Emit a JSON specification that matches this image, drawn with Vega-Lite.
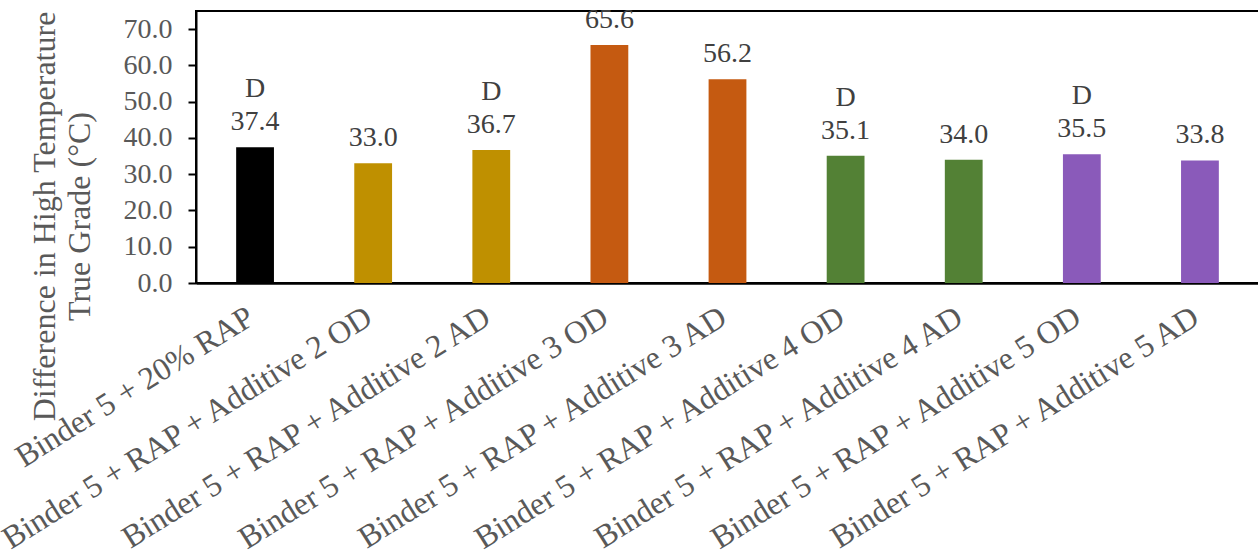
{
  "$schema": "https://vega.github.io/schema/vega-lite/v6.json",
  "autosize": "none",
  "width": 1063,
  "height": 272,
  "padding": {"left": 196, "top": 11, "right": 0, "bottom": 267},
  "background": "white",
  "config": {
    "font": "Liberation Serif",
    "view": {"stroke": "black", "strokeWidth": 2}
  },
  "data": {
    "values": [
      {"sample": "Binder 5 + 20% RAP", "value": 37.4, "group": "Control", "letter": "D"},
      {"sample": "Binder 5 + RAP + Additive 2 OD", "value": 33.0, "group": "Additive 2", "letter": ""},
      {"sample": "Binder 5 + RAP + Additive 2 AD", "value": 36.7, "group": "Additive 2", "letter": "D"},
      {"sample": "Binder 5 + RAP + Additive 3 OD", "value": 65.6, "group": "Additive 3", "letter": ""},
      {"sample": "Binder 5 + RAP + Additive 3 AD", "value": 56.2, "group": "Additive 3", "letter": ""},
      {"sample": "Binder 5 + RAP + Additive 4 OD", "value": 35.1, "group": "Additive 4", "letter": "D"},
      {"sample": "Binder 5 + RAP + Additive 4 AD", "value": 34.0, "group": "Additive 4", "letter": ""},
      {"sample": "Binder 5 + RAP + Additive 5 OD", "value": 35.5, "group": "Additive 5", "letter": "D"},
      {"sample": "Binder 5 + RAP + Additive 5 AD", "value": 33.8, "group": "Additive 5", "letter": ""}
    ]
  },
  "encoding": {
    "x": {
      "field": "sample", "type": "nominal", "sort": null,
      "scale": {"paddingInner": 0.68, "paddingOuter": 0.34},
      "axis": {
        "title": null, "ticks": false, "domain": true, "domainColor": "black", "domainWidth": 2.5,
        "labelAngle": -32, "labelAlign": "right", "labelBaseline": "top", "labelPadding": 18, "labelOffset": -12,
        "labelFontSize": 32, "labelColor": "#595959", "labelLimit": 0, "labelOverlap": false
      }
    },
    "y": {
      "field": "value", "type": "quantitative",
      "scale": {"domain": [0, 75], "nice": false},
      "axis": {
        "values": [0, 10, 20, 30, 40, 50, 60, 70], "format": ".1f",
        "grid": false, "domainColor": "black", "domainWidth": 2,
        "tickColor": "black", "tickSize": 8, "tickWidth": 2,
        "labelFontSize": 28, "labelColor": "#595959", "labelPadding": 16,
        "title": ["Difference in High Temperature", "True Grade (°C)"],
        "titleFontSize": 32, "titleFontWeight": "normal", "titleColor": "#595959",
        "titleAngle": -90, "titleAlign": "center", "titleBaseline": "middle",
        "titleX": -152, "titleY": 205, "titleLineHeight": 35
      }
    }
  },
  "layer": [
    {
      "mark": {"type": "bar"},
      "encoding": {
        "color": {
          "field": "group", "type": "nominal", "legend": null,
          "scale": {
            "domain": ["Control", "Additive 2", "Additive 3", "Additive 4", "Additive 5"],
            "range": ["#000000", "#BF9000", "#C55A11", "#538135", "#8A5ABA"]
          }
        }
      }
    },
    {
      "mark": {"type": "text", "dy": -17, "baseline": "alphabetic", "fontSize": 28, "color": "#404040"},
      "encoding": {"text": {"field": "value", "type": "quantitative", "format": ".1f"}}
    },
    {
      "mark": {"type": "text", "dy": -50, "baseline": "alphabetic", "fontSize": 28, "color": "#404040"},
      "encoding": {"text": {"field": "letter", "type": "nominal"}}
    }
  ]
}
